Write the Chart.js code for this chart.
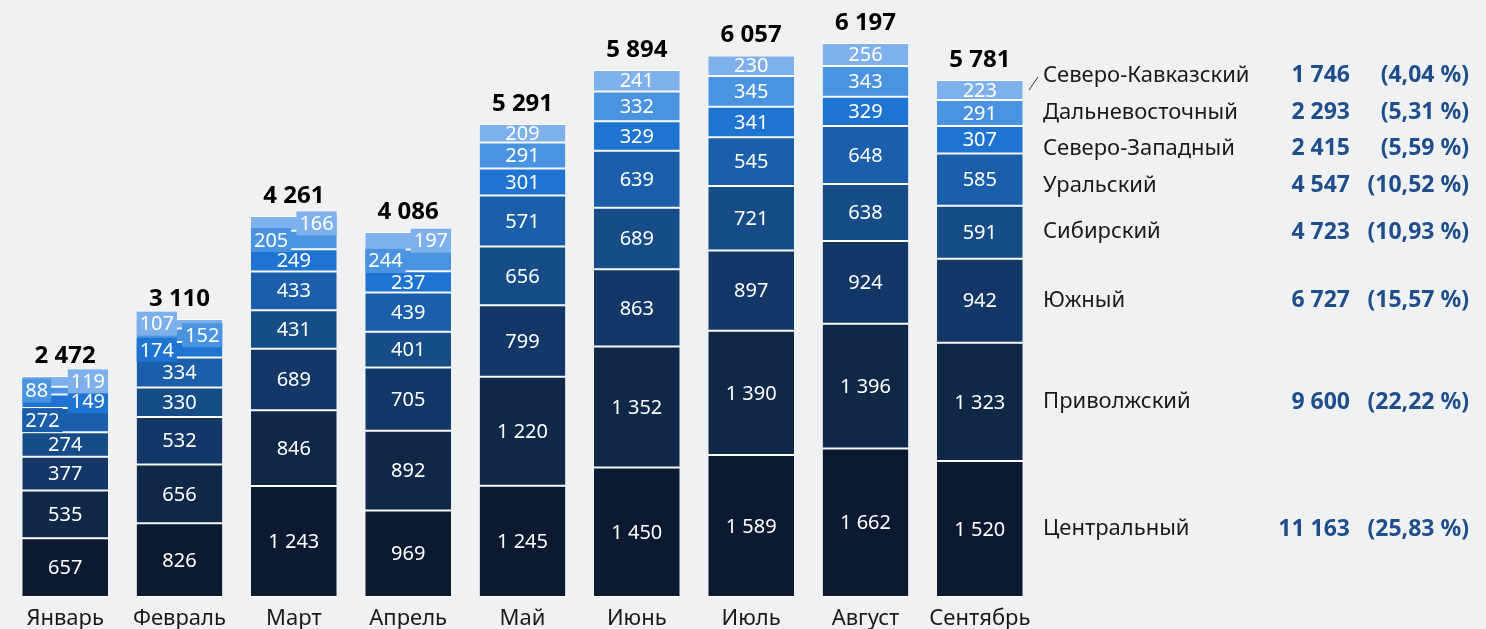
<!DOCTYPE html>
<html lang="ru">
<head>
<meta charset="utf-8">
<title>Регионы по месяцам</title>
<script src="https://cdn.jsdelivr.net/npm/chart.js@4/dist/chart.umd.min.js"></script>
<style>
  html, body { margin: 0; padding: 0; background: #F0F1F3; }
  #wrap { width: 1486px; height: 629px; position: relative; }
</style>
</head>
<body>
<div id="wrap"><canvas id="grafic"></canvas></div>
<script>
// Месяцы
const months = ['Январь', 'Февраль', 'Март', 'Апрель', 'Май', 'Июнь', 'Июль', 'Август', 'Сентябрь'];

// Значения по регионам (снизу вверх в столбце)
const centralny   = [657, 826, 1243, 969, 1245, 1450, 1589, 1662, 1520];
const privolzhsky = [535, 656, 846, 892, 1220, 1352, 1390, 1396, 1323];
const yuzhny      = [377, 532, 689, 705, 799, 863, 897, 924, 942];
const sibirsky    = [274, 330, 431, 401, 656, 689, 721, 638, 591];
const uralsky     = [272, 334, 433, 439, 571, 639, 545, 648, 585];
const szapadny    = [149, 174, 249, 237, 301, 329, 341, 329, 307];
const dalnevost   = [88, 152, 205, 244, 291, 332, 345, 343, 291];
const skavkaz     = [119, 107, 166, 197, 209, 241, 230, 256, 223];

// Итоги над столбцами
const monthTotals = [2472, 3110, 4261, 4086, 5291, 5894, 6057, 6197, 5781];

// Итоги по регионам (легенда справа)
const regionNames  = ['Центральный', 'Приволжский', 'Южный', 'Сибирский', 'Уральский', 'Северо-Западный', 'Дальневосточный', 'Северо-Кавказский'];
const regionTotals = [11163, 9600, 6727, 4723, 4547, 2415, 2293, 1746];

const seriesData = [centralny, privolzhsky, yuzhny, sibirsky, uralsky, szapadny, dalnevost, skavkaz];
const colors = ['#0B1A30', '#0F2848', '#133867', '#174D87', '#1B5FAA', '#1F74D2', '#4A93E1', '#7EB0EB'];

// сдвиг подписей в маленьких сегментах: -1 влево, 1 вправо (месяц -> серия -> сторона)
const labelSide = {
  0: { 4: -1, 5: 1, 6: -1, 7: 1 },
  1: { 5: -1, 6: 1, 7: -1 },
  2: { 6: -1, 7: 1 },
  3: { 6: -1, 7: 1 }
};

const FONT = '"Noto Sans", "Open Sans", sans-serif';

function fmt(n) {
  return String(n).replace(/\B(?=(\d{3})+(?!\d))/g, ' ');
}

// раздвигаем подписи легенды, чтобы не налезали
function spread(ys, gap) {
  let groups = ys.map((y, i) => ({ idx: [i], mean: y }));
  let changed = true;
  while (changed) {
    changed = false;
    for (let k = 0; k < groups.length - 1; k++) {
      const a = groups[k], b = groups[k + 1];
      const aEnd = a.mean + (a.idx.length - 1) * gap / 2;
      const bStart = b.mean - (b.idx.length - 1) * gap / 2;
      if (bStart - aEnd < gap) {
        const idx = a.idx.concat(b.idx);
        const mean = idx.reduce((s, i) => s + ys[i], 0) / idx.length;
        groups.splice(k, 2, { idx: idx, mean: mean });
        changed = true;
        break;
      }
    }
  }
  const out = [];
  groups.forEach(g => g.idx.forEach((i, j) => { out[i] = g.mean + (j - (g.idx.length - 1) / 2) * gap; }));
  return out;
}

const labelsPlugin = {
  id: 'labelsPlugin',
  afterDatasetsDraw(chart) {
    const ctx = chart.ctx;
    ctx.save();
    ctx.textBaseline = 'middle';

    // подписи значений внутри сегментов
    ctx.font = '20px ' + FONT;
    for (let m = 0; m < months.length; m++) {
      for (let s = 0; s < seriesData.length; s++) {
        const el = chart.getDatasetMeta(s).data[m];
        const txt = fmt(seriesData[s][m]);
        const cy = (el.y + el.base) / 2;
        const side = (labelSide[m] && labelSide[m][s]) || 0;
        const w = ctx.measureText(txt).width;
        if (side === 0) {
          ctx.textAlign = 'center';
          ctx.fillStyle = '#FFFFFF';
          ctx.fillText(txt, el.x, cy + 1);
        } else {
          const bw = w + 6;
          const left = side < 0 ? el.x - el.width / 2 : el.x + el.width / 2 - bw;
          ctx.fillStyle = colors[s];
          ctx.fillRect(left, cy - 12, bw, 24);
          ctx.textAlign = 'center';
          ctx.fillStyle = '#FFFFFF';
          ctx.fillText(txt, left + bw / 2, cy + 1);
        }
      }
    }

    // итоги над столбцами
    ctx.font = 'bold 24px ' + FONT;
    ctx.fillStyle = '#000000';
    ctx.textAlign = 'center';
    const topMeta = chart.getDatasetMeta(seriesData.length - 1);
    for (let m = 0; m < months.length; m++) {
      const el = topMeta.data[m];
      ctx.fillText(fmt(monthTotals[m]), el.x, el.y - 20);
    }

    // легенда справа по последнему столбцу
    const last = months.length - 1;
    const order = [];
    for (let s = seriesData.length - 1; s >= 0; s--) order.push(s);
    const want = order.map(s => {
      const el = chart.getDatasetMeta(s).data[last];
      return (el.y + el.base) / 2;
    });
    const ys = spread(want, 36.5);
    const sum = regionTotals.reduce((a, b) => a + b, 0);
    const lx = chart.chartArea.right + 6;
    order.forEach((s, k) => {
      const y = ys[k];
      ctx.textAlign = 'left';
      ctx.font = '22px ' + FONT;
      ctx.fillStyle = '#1A1A1A';
      ctx.fillText(regionNames[s], lx, y);
      ctx.textAlign = 'right';
      ctx.font = 'bold 23px ' + FONT;
      ctx.fillStyle = '#1F4E8C';
      ctx.fillText(fmt(regionTotals[s]), 1350, y);
      const pct = (regionTotals[s] / sum * 100).toFixed(2).replace('.', ',');
      ctx.fillText('(' + pct + ' %)', 1469, y);
      if (want[k] - y > 6) {
        ctx.strokeStyle = '#333333';
        ctx.lineWidth = 1;
        ctx.beginPath();
        ctx.moveTo(lx - 14, want[k]);
        ctx.lineTo(lx - 5, y + 1);
        ctx.stroke();
      }
    });
    ctx.restore();
  }
};

const ctx = document.getElementById('grafic').getContext('2d');
const myChart = new Chart(ctx, {
  type: 'bar',
  data: {
    labels: months,
    datasets: seriesData.map((d, i) => ({
      label: regionNames[i],
      data: d,
      backgroundColor: colors[i],
      borderColor: '#FFFFFF',
      borderWidth: { top: 1, bottom: 1, left: 0, right: 0 },
      borderSkipped: false,
      categoryPercentage: 0.75,
      barPercentage: 1
    }))
  },
  options: {
    responsive: true,
    maintainAspectRatio: false,
    animation: false,
    layout: { padding: { left: 8, right: 449, top: 7, bottom: 0 } },
    plugins: {
      legend: { display: false },
      tooltip: { enabled: false }
    },
    scales: {
      x: {
        stacked: true,
        grid: { display: false, drawTicks: false },
        border: { display: false },
        ticks: { color: '#1A1A1A', padding: 9, font: { family: FONT, size: 22 } },
        afterFit(scale) { scale.height = 32; }
      },
      y: {
        stacked: true,
        display: false,
        min: 0,
        max: 6600
      }
    }
  },
  plugins: [labelsPlugin]
});
</script>
</body>
</html>
